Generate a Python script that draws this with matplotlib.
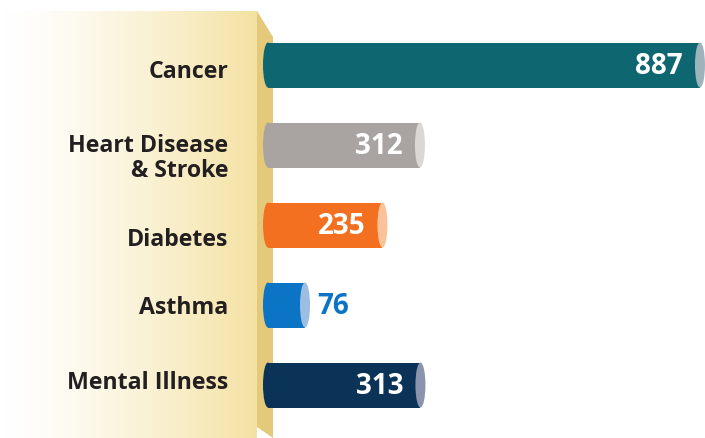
import matplotlib.pyplot as plt
import numpy as np
from matplotlib.patches import Rectangle, Ellipse, Polygon
from matplotlib.colors import LinearSegmentedColormap

plt.rcParams['font.family'] = ['Open Sans', 'DejaVu Sans']

categories = ['Cancer', 'Heart Disease\n& Stroke', 'Diabetes', 'Asthma', 'Mental Illness']
values = [887, 312, 235, 76, 313]
body_colors = ['#0E6670', '#A9A4A1', '#F37021', '#0B74C4', '#0A3357']
cap_colors = ['#9FB3BC', '#DAD7D5', '#FBC199', '#9DBEE3', '#8A94AC']
inside = [True, True, True, False, True]

W, H = 705, 439
fig = plt.figure(figsize=(W / 100, H / 100), dpi=100)

# background axes in pixel units for the beige panel
bg = fig.add_axes([0, 0, 1, 1])
bg.set_xlim(0, W)
bg.set_ylim(H, 0)
bg.axis('off')

grad = np.linspace(0, 1, 256).reshape(1, -1) ** 1.4
cmap = LinearSegmentedColormap.from_list('panel', ['#FFFFFF', '#F4E2A3'])
bg.imshow(grad, cmap=cmap, extent=[0, 257, H, 12], aspect='auto', zorder=1)
bg.add_patch(Polygon([[257, 12], [273, 38], [273, H], [257, 428]],
                     closed=True, facecolor='#E4C97A', edgecolor='none', zorder=2))
bg.set_xlim(0, W)
bg.set_ylim(H, 0)

# bar axes: x in data units, y in row index
px_per_unit = 0.487
x0_px = 268
row0_px, row_step = 66, 80
ax = fig.add_axes([0, 0, 1, 1])
ax.patch.set_alpha(0)
ax.axis('off')
ax.set_xlim(-x0_px / px_per_unit, (W - x0_px) / px_per_unit)
ax.set_ylim((H - row0_px) / row_step, -row0_px / row_step)

bar_h = 45 / row_step
cap_w = 10 / px_per_unit

for i, (cat, v) in enumerate(zip(categories, values)):
    ax.add_patch(Rectangle((0, i - bar_h / 2), v, bar_h, facecolor=body_colors[i],
                           edgecolor='none', zorder=3))
    ax.add_patch(Ellipse((0, i), cap_w, bar_h, facecolor=body_colors[i],
                         edgecolor='none', zorder=3))
    ax.add_patch(Ellipse((v, i), cap_w, bar_h, facecolor=cap_colors[i],
                         edgecolor='none', zorder=4))
    if inside[i]:
        ax.text(v - 17 / px_per_unit, i, str(v), ha='right', va='center',
                color='white', fontsize=20, fontweight='bold', zorder=5)
    else:
        ax.text(v + 12 / px_per_unit, i, str(v), ha='left', va='center',
                color=body_colors[i], fontsize=20, fontweight='bold', zorder=5)

# category labels (slightly below bar centers, as in the original)
label_offsets = [0.08, 0.16, 0.18, 0.03, -0.04]
for i, cat in enumerate(categories):
    ax.text(-40 / px_per_unit, i + label_offsets[i], cat, ha='right', va='center',
            color='#231F20', fontsize=16.7, fontweight='bold', linespacing=1.05, zorder=5)

fig.savefig('out.png', dpi=100)
